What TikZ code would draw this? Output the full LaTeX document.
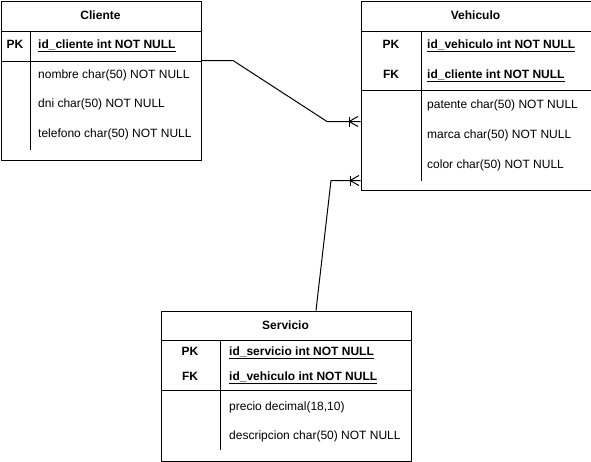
\documentclass[tikz,border=0pt]{standalone}
\usepackage{fontspec}
\setmainfont{Liberation Sans}
\begin{document}
\begin{tikzpicture}[x=1pt,y=-1pt,
  tbl/.style={draw=black,line width=1pt,fill=white,inner sep=0pt,anchor=north west},
  sep/.style={draw=black,line width=1pt},
  txt/.style={font=\fontsize{12}{14}\selectfont,inner sep=0pt,text height=9pt,text depth=2.5pt},
  ttl/.style={txt,font=\fontsize{12}{14}\selectfont\bfseries},
  key/.style={txt,font=\fontsize{12}{14}\selectfont\bfseries},
  keyfld/.style={txt,font=\fontsize{12}{14}\selectfont\bfseries,anchor=west},
  fld/.style={txt,anchor=west},
  rel/.style={draw=black,line width=1pt},
  crow/.style={draw=black,line width=1pt}]
\useasboundingbox (0,0) rectangle (591,461);

% Cliente
\node[tbl,minimum width=200pt,minimum height=159pt] (cli) at (0.5,1) {};
\draw[sep] (0.5,31) -- (200.5,31);
\draw[sep] (0.5,61) -- (200.5,61);
\draw[sep] (30,31) -- (30,150);
\node[ttl] (clititle) at (100.5,16) {Cliente};
\node[key] (clipk) at (15,45.5) {PK};
\node[keyfld] (cliid) at (38,45.5) {\underline{id\_cliente int NOT NULL}};
\node[fld] (clinom) at (38,75.5) {nombre char(50) NOT NULL};
\node[fld] (clidni) at (38,104.5) {dni char(50) NOT NULL};
\node[fld] (clitel) at (38,134.5) {telefono char(50) NOT NULL};

% Vehiculo
\node[tbl,minimum width=230pt,minimum height=189pt] (veh) at (360.5,1) {};
\draw[sep] (360.5,31) -- (590.5,31);
\draw[sep] (360.5,90.5) -- (590.5,90.5);
\draw[sep] (421,31) -- (421,181);
\node[ttl] (vehtitle) at (475.5,16) {Vehiculo};
\node[key] (vehpk) at (391,45.5) {PK};
\node[key] (vehfk) at (391,75.5) {FK};
\node[keyfld] (vehid) at (427,45.5) {\underline{id\_vehiculo int NOT NULL}};
\node[keyfld] (vehcli) at (427,75.5) {\underline{id\_cliente int NOT NULL}};
\node[fld] (vehpat) at (427,105.5) {patente char(50) NOT NULL};
\node[fld] (vehmar) at (427,135.5) {marca char(50) NOT NULL};
\node[fld] (vehcol) at (427,165.5) {color char(50) NOT NULL};

% Servicio
\node[tbl,minimum width=250pt,minimum height=150pt] (ser) at (160.5,310.5) {};
\draw[sep] (160.5,340.5) -- (410.5,340.5);
\draw[sep] (160.5,390.5) -- (410.5,390.5);
\draw[sep] (220,340.5) -- (220,450);
\node[ttl] (sertitle) at (285.5,326) {Servicio};
\node[key] (serpk) at (190,352) {PK};
\node[key] (serfk) at (190,377) {FK};
\node[keyfld] (serid) at (229,352) {\underline{id\_servicio int NOT NULL}};
\node[keyfld] (serveh) at (229,377) {\underline{id\_vehiculo int NOT NULL}};
\node[fld] (serpre) at (229,407) {precio decimal(18,10)};
\node[fld] (serdes) at (229,436) {descripcion char(50) NOT NULL};

% relation Cliente -> Vehiculo
\coordinate (a1) at (cli.east |- 0,60.5);
\coordinate (a2) at (veh.west |- 0,121.5);
\draw[rel] (a1) -- (233,60.5) -- (327,121.5) -- (a2);
\draw[crow] (349,116.5) -- (349,126.5);
\draw[crow] (349,121.5) -- (358,116.5);
\draw[crow] (349,121.5) -- (358,126.5);

% relation Servicio -> Vehiculo
\coordinate (b1) at (ser.north -| 316,0);
\coordinate (b2) at (veh.west |- 0,180.5);
\draw[rel] (b1) -- (331,180.5) -- (b2);
\draw[crow] (350,175.5) -- (350,185.5);
\draw[crow] (350,180.5) -- (359,175.5);
\draw[crow] (350,180.5) -- (359,185.5);
\end{tikzpicture}
\end{document}
